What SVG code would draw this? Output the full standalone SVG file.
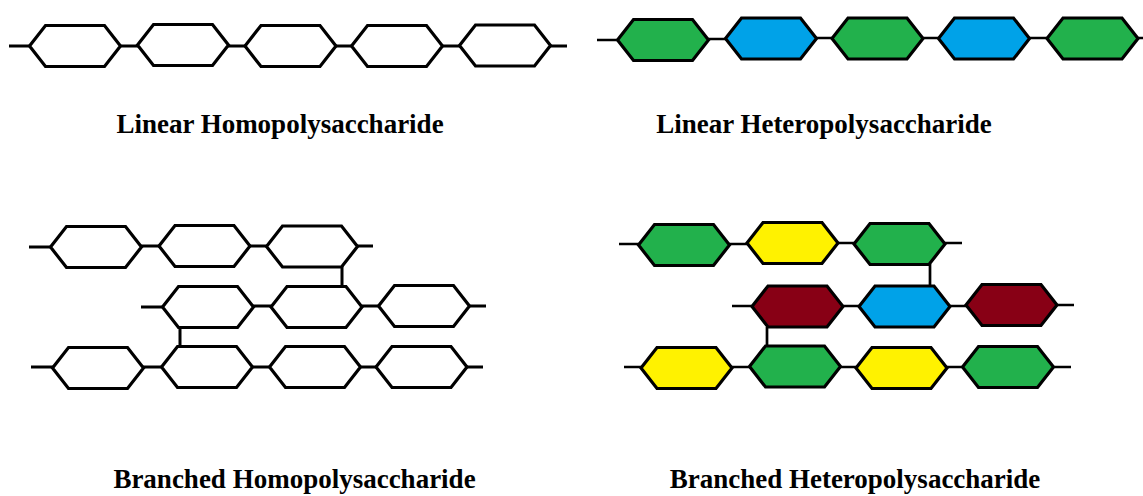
<svg xmlns="http://www.w3.org/2000/svg" xmlns:xlink="http://www.w3.org/1999/xlink" width="1143" height="496" viewBox="0 0 1143 496">
  <style>
    .hex { stroke: #000; stroke-width: 3.2; stroke-linejoin: miter; }
    .w { fill: #fff; }
    .g { fill: #22b14c; }
    .b { fill: #00a2e8; }
    .y { fill: #fff200; }
    .m { fill: #880015; }
    .link { stroke: #000; stroke-width: 3; fill: none; }
    .link.thin { stroke-width: 2.7; }
    .lbl { font-family: "Liberation Serif", "Times New Roman", serif; font-weight: bold; font-size: 27px; fill: #000; text-anchor: middle; }
  </style>
  <defs>
    <!-- one monosaccharide unit: flat hexagon centred on the origin -->
    <polygon id="hx" points="-45.5,0 -29.5,-20.5 29.5,-20.5 45.5,0 29.5,20.5 -29.5,20.5"/>
  </defs>
  <rect width="1143" height="496" fill="#fff"/>

  <!-- glycosidic bonds -->
  <g id="connectors">
    <!-- linear homopolysaccharide -->
    <path class="link" d="M9,46 H30 M120,46 H138 M228,46 H246 M336,46 H352 M443,46 H460 M550,46 H567"/>
    <!-- linear heteropolysaccharide -->
    <path class="link thin" d="M597,40 H618 M708,39 H726 M816,38 H833 M922,38 H940 M1029,38 H1047 M1137,38 H1143"/>
    <!-- branched homopolysaccharide -->
    <path class="link" d="M29,247 H51 M141,246 H159 M249,246 H267 M357,246 H373"/>
    <path class="link" d="M141,307 H163 M253,306 H271 M362,306 H378 M469,306 H486"/>
    <path class="link" d="M31,367 H53 M143,367 H162 M252,367 H270 M360,367 H376 M467,367 H483"/>
    <path class="link" d="M342,266 V287 M180,327 V347"/>
    <!-- branched heteropolysaccharide -->
    <path class="link thin" d="M619,244 H640 M729,244 H747 M838,243 H855 M944,243 H962"/>
    <path class="link thin" d="M732,306 H753 M842,306 H860 M949,306 H967 M1056,305 H1074"/>
    <path class="link thin" d="M624,367 H642 M731,367 H750 M840,367 H858 M946,367 H963 M1053,367 H1071"/>
    <path class="link thin" d="M930,264 V286 M767,327 V346"/>
  </g>

  <!-- linear homopolysaccharide units -->
  <g id="lhomo-1" transform="translate(75,46)"><use xlink:href="#hx" href="#hx" class="hex w"/></g>
  <g id="lhomo-2" transform="translate(183,45)"><use xlink:href="#hx" href="#hx" class="hex w"/></g>
  <g id="lhomo-3" transform="translate(290.5,46)"><use xlink:href="#hx" href="#hx" class="hex w"/></g>
  <g id="lhomo-4" transform="translate(397,46)"><use xlink:href="#hx" href="#hx" class="hex w"/></g>
  <g id="lhomo-5" transform="translate(505,45.5)"><use xlink:href="#hx" href="#hx" class="hex w"/></g>

  <!-- linear heteropolysaccharide units -->
  <g id="lhetero-1" transform="translate(663,40)"><use xlink:href="#hx" href="#hx" class="hex g"/></g>
  <g id="lhetero-2" transform="translate(771,38.5)"><use xlink:href="#hx" href="#hx" class="hex b"/></g>
  <g id="lhetero-3" transform="translate(877.5,38.5)"><use xlink:href="#hx" href="#hx" class="hex g"/></g>
  <g id="lhetero-4" transform="translate(984,38.5)"><use xlink:href="#hx" href="#hx" class="hex b"/></g>
  <g id="lhetero-5" transform="translate(1092.5,38.5)"><use xlink:href="#hx" href="#hx" class="hex g"/></g>

  <!-- branched homopolysaccharide units -->
  <g id="bhomo-r1-1" transform="translate(96,247)"><use xlink:href="#hx" href="#hx" class="hex w"/></g>
  <g id="bhomo-r1-2" transform="translate(204.5,246)"><use xlink:href="#hx" href="#hx" class="hex w"/></g>
  <g id="bhomo-r1-3" transform="translate(312,246.5)"><use xlink:href="#hx" href="#hx" class="hex w"/></g>
  <g id="bhomo-r2-1" transform="translate(208,307)"><use xlink:href="#hx" href="#hx" class="hex w"/></g>
  <g id="bhomo-r2-2" transform="translate(316.5,307)"><use xlink:href="#hx" href="#hx" class="hex w"/></g>
  <g id="bhomo-r2-3" transform="translate(424,306)"><use xlink:href="#hx" href="#hx" class="hex w"/></g>
  <g id="bhomo-r3-1" transform="translate(98,368)"><use xlink:href="#hx" href="#hx" class="hex w"/></g>
  <g id="bhomo-r3-2" transform="translate(207,367)"><use xlink:href="#hx" href="#hx" class="hex w"/></g>
  <g id="bhomo-r3-3" transform="translate(315,367)"><use xlink:href="#hx" href="#hx" class="hex w"/></g>
  <g id="bhomo-r3-4" transform="translate(421.5,367)"><use xlink:href="#hx" href="#hx" class="hex w"/></g>

  <!-- branched heteropolysaccharide units -->
  <g id="bhetero-r1-1" transform="translate(684,245)"><use xlink:href="#hx" href="#hx" class="hex g"/></g>
  <g id="bhetero-r1-2" transform="translate(792.5,243)"><use xlink:href="#hx" href="#hx" class="hex y"/></g>
  <g id="bhetero-r1-3" transform="translate(899.5,244)"><use xlink:href="#hx" href="#hx" class="hex g"/></g>
  <g id="bhetero-r2-1" transform="translate(797.5,306.5)"><use xlink:href="#hx" href="#hx" class="hex m"/></g>
  <g id="bhetero-r2-2" transform="translate(904.5,306.5)"><use xlink:href="#hx" href="#hx" class="hex b"/></g>
  <g id="bhetero-r2-3" transform="translate(1011.5,305)"><use xlink:href="#hx" href="#hx" class="hex m"/></g>
  <g id="bhetero-r3-1" transform="translate(686.5,368)"><use xlink:href="#hx" href="#hx" class="hex y"/></g>
  <g id="bhetero-r3-2" transform="translate(795,366.5)"><use xlink:href="#hx" href="#hx" class="hex g"/></g>
  <g id="bhetero-r3-3" transform="translate(901.5,368)"><use xlink:href="#hx" href="#hx" class="hex y"/></g>
  <g id="bhetero-r3-4" transform="translate(1008,367)"><use xlink:href="#hx" href="#hx" class="hex g"/></g>

  <!-- captions -->
  <g id="labels">
    <text class="lbl" x="280" y="133">Linear Homopolysaccharide</text>
    <text class="lbl" x="824" y="133">Linear Heteropolysaccharide</text>
    <text class="lbl" x="294.5" y="488">Branched Homopolysaccharide</text>
    <text class="lbl" x="855" y="488">Branched Heteropolysaccharide</text>
  </g>
</svg>
